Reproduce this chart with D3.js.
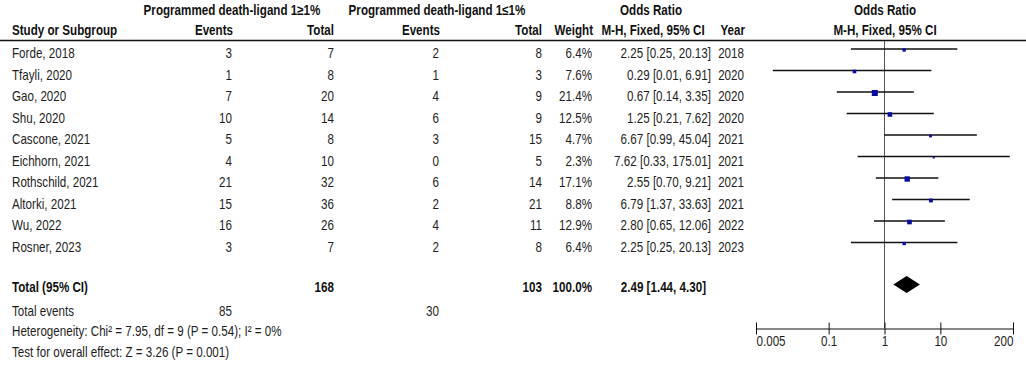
<!DOCTYPE html>
<html>
<head>
<meta charset="utf-8">
<script src="https://cdn.jsdelivr.net/npm/d3@7"></script>
<style>
  body { margin: 0; background: #fff; }
  text { font-family: "Liberation Sans", Arial, sans-serif; font-size: 14px; fill: #1e1e1e; }
  .b { font-weight: bold; fill: #111; }
</style>
</head>
<body>
<div id="chart"></div>
<script>
// data
const studies = ["Forde, 2018", "Tfayli, 2020", "Gao, 2020", "Shu, 2020", "Cascone, 2021",
                 "Eichhorn, 2021", "Rothschild, 2021", "Altorki, 2021", "Wu, 2022", "Rosner, 2023"]
const events1 = [3, 1, 7, 10, 5, 4, 21, 15, 16, 3]
const total1 = [7, 8, 20, 14, 8, 10, 32, 36, 26, 7]
const events2 = [2, 1, 4, 6, 3, 0, 6, 2, 4, 2]
const total2 = [8, 3, 9, 9, 15, 5, 14, 21, 11, 8]
const weights = [6.4, 7.6, 21.4, 12.5, 4.7, 2.3, 17.1, 8.8, 12.9, 6.4]
const oddsRatio = [2.25, 0.29, 0.67, 1.25, 6.67, 7.62, 2.55, 6.79, 2.80, 2.25]
const lower = [0.25, 0.01, 0.14, 0.21, 0.99, 0.33, 0.70, 1.37, 0.65, 0.25]
const upper = [20.13, 6.91, 3.35, 7.62, 45.04, 175.01, 9.21, 33.63, 12.06, 20.13]
const years = [2018, 2020, 2020, 2020, 2021, 2021, 2021, 2021, 2022, 2023]
const pooled = { or: 2.49, lo: 1.44, hi: 4.30, total1: 168, total2: 103, events1: 85, events2: 30 }
const axisTicks = [0.005, 0.1, 1, 10, 200]

const W = 1026, H = 367
const SX = 0.83   // text is drawn horizontally condensed

const rows = studies.map((s, i) => ({
    study: s, e1: events1[i], t1: total1[i], e2: events2[i], t2: total2[i],
    w: weights[i], or: oddsRatio[i], lo: lower[i], hi: upper[i], year: years[i]
}))

const svg = d3.select("#chart").append("svg")
    .attr("width", W).attr("height", H)

// scales
const x = d3.scaleLog().domain([0.005, 200]).range([756, 1013])
const y = d3.scaleBand().domain(studies).range([42.25, 257.25])
const yc = s => y(s) + y.bandwidth() / 2

// column anchors
const COL = { study: 12, e1: 232, t1: 334, e2: 439, t2: 542, w: 592, ci: 711, yr: 745 }

function txt(g, str, px, py, anchor, cls) {
    return g.append("text")
        .attr("transform", `translate(${px},${py}) scale(${SX},1)`)
        .attr("text-anchor", anchor || "start")
        .attr("class", cls || null)
        .text(str)
}

const f2 = d3.format(".2f")
const ciText = (o, l, h) => `${f2(o)} [${f2(l)}, ${f2(h)}]`

/* --- header --- */
const head = svg.append("g")
txt(head, "Programmed death-ligand 1≥1%", 232, 15, "middle", "b")
txt(head, "Programmed death-ligand 1≤1%", 437, 15, "middle", "b")
txt(head, "Odds Ratio", 651, 15, "middle", "b")
txt(head, "Odds Ratio", 885, 15, "middle", "b")
txt(head, "Study or Subgroup", COL.study, 35, "start", "b")
txt(head, "Events", COL.e1 + 1, 35, "end", "b")
txt(head, "Total", COL.t1, 35, "end", "b")
txt(head, "Events", COL.e2 + 1, 35, "end", "b")
txt(head, "Total", COL.t2, 35, "end", "b")
txt(head, "Weight", COL.w + 1, 35, "end", "b")
txt(head, "M-H, Fixed, 95% CI", 653, 35, "middle", "b")
txt(head, "Year", COL.yr, 35, "end", "b")
txt(head, "M-H, Fixed, 95% CI", 885, 35, "middle", "b")

svg.append("line")
    .attr("x1", 0).attr("x2", W).attr("y1", 40.5).attr("y2", 40.5)
    .attr("stroke", "#111").attr("stroke-width", 1.4)

/* --- study rows --- */
const rowG = svg.append("g").selectAll("g")
    .data(rows)
    .join("g")

rowG.each(function (d) {
    const g = d3.select(this), by = yc(d.study) + 5
    txt(g, d.study, COL.study, by)
    txt(g, d.e1, COL.e1, by, "end")
    txt(g, d.t1, COL.t1, by, "end")
    txt(g, d.e2, COL.e2, by, "end")
    txt(g, d.t2, COL.t2, by, "end")
    txt(g, d.w.toFixed(1) + "%", COL.w, by, "end")
    txt(g, ciText(d.or, d.lo, d.hi), COL.ci, by, "end")
    txt(g, d.year, COL.yr - 1, by, "end")
})

// line of no effect
svg.append("line")
    .attr("x1", x(1)).attr("x2", x(1))
    .attr("y1", 41).attr("y2", 328)
    .attr("stroke", "#555").attr("stroke-width", 1)

// confidence intervals
svg.append("g").selectAll("line")
    .data(rows)
    .join("line")
    .attr("x1", d => x(d.lo)).attr("x2", d => x(d.hi))
    .attr("y1", d => yc(d.study) - 4).attr("y2", d => yc(d.study) - 4)
    .attr("stroke", "#111").attr("stroke-width", 1.6)

// weighted squares
svg.append("g").selectAll("rect")
    .data(rows)
    .join("rect")
    .attr("x", d => x(d.or) - 0.65 * Math.sqrt(d.w))
    .attr("y", d => yc(d.study) - 3 - 0.65 * Math.sqrt(d.w))
    .attr("width", d => 1.3 * Math.sqrt(d.w))
    .attr("height", d => 1.3 * Math.sqrt(d.w))
    .attr("fill", "#0c0ca0")

/* --- total rows --- */
const tot = svg.append("g")
txt(tot, "Total (95% CI)", COL.study, 292, "start", "b")
txt(tot, pooled.total1, COL.t1, 292, "end", "b")
txt(tot, pooled.total2, COL.t2, 292, "end", "b")
txt(tot, "100.0%", COL.w, 292, "end", "b")
txt(tot, ciText(pooled.or, pooled.lo, pooled.hi), 706, 292, "end", "b")
txt(tot, "Total events", COL.study, 316)
txt(tot, pooled.events1, COL.e1, 316, "end")
txt(tot, pooled.events2, COL.e2, 316, "end")
txt(tot, "Heterogeneity: Chi² = 7.95, df = 9 (P = 0.54); I² = 0%", COL.study, 336)
txt(tot, "Test for overall effect: Z = 3.26 (P = 0.001)", COL.study, 357)

// pooled diamond
const dy = 284.5, dh = 8.5
svg.append("path")
    .attr("d", `M${x(pooled.lo)},${dy}L${x(pooled.or)},${dy - dh}L${x(pooled.hi)},${dy}L${x(pooled.or)},${dy + dh}Z`)
    .attr("fill", "#000")

/* --- axis --- */
const axisG = svg.append("g")
    .attr("transform", "translate(0,328.5)")
    .call(d3.axisBottom(x).tickValues(axisTicks).tickSize(6).tickSizeOuter(0).tickFormat(d => String(d)))

axisG.select(".domain").attr("stroke", "#111")
axisG.selectAll(".tick line").attr("y1", -6).attr("stroke", "#111")
axisG.selectAll(".tick text").remove()
axisG.selectAll(".tick").each(function (d, i) {
    const anchor = i === 0 ? "start" : (i === axisTicks.length - 1 ? "end" : "middle")
    txt(d3.select(this), String(d), 0, 17.5, anchor)
})
</script>
</body>
</html>
